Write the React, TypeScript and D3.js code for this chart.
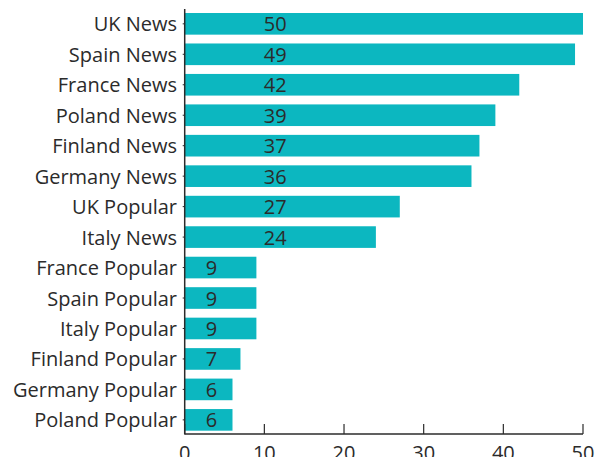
import React from "react";
import * as d3 from "d3";

const categories = [
  "UK News",
  "Spain News",
  "France News",
  "Poland News",
  "Finland News",
  "Germany News",
  "UK Popular",
  "Italy News",
  "France Popular",
  "Spain Popular",
  "Italy Popular",
  "Finland Popular",
  "Germany Popular",
  "Poland Popular",
];
const values = [50, 49, 42, 39, 37, 36, 27, 24, 9, 9, 9, 7, 6, 6];
const xTicks = [0, 10, 20, 30, 40, 50];

const W = 602;
const H = 457;
const FONT = "'Open Sans', sans-serif";
const TEXT = "#2b2b2b";
const BAR = "#0cb7c0";
const FS = 20;

export default function App() {
  const x = d3.scaleLinear().domain([0, 50]).range([184.7, 583]);
  const y = d3
    .scaleBand<string>()
    .domain(categories)
    .range([8.6, 435.1])
    .paddingInner(0.29)
    .paddingOuter(0.145);
  const axisY = 434;
  const bw = y.bandwidth();

  return (
    <svg
      width={W}
      height={H}
      style={{ position: "absolute", left: 0, top: 0, background: "#fff" }}
      fontFamily={FONT}
    >
      {categories.map((c, i) => {
        const yc = (y(c) as number) + bw / 2;
        const v = values[i];
        return (
          <g key={c}>
            <rect x={x(0)} y={y(c)} width={x(v) - x(0)} height={bw} fill={BAR} />
            <text x={177} y={yc + 7.5} textAnchor="end" fontSize={FS} fill={TEXT}>
              {c}
            </text>
            <text
              x={v >= 10 ? x(10) - 0.5 : x(2.65)}
              y={yc + 7.5}
              textAnchor="start"
              fontSize={FS}
              fill={TEXT}
            >
              {v}
            </text>
            <line x1={x(0) - 2} x2={x(0)} y1={yc} y2={yc} stroke={TEXT} strokeWidth={1} />
          </g>
        );
      })}
      <line x1={x(0)} x2={x(0)} y1={9} y2={axisY + 0.5} stroke={TEXT} strokeWidth={1.5} />
      <line x1={x(0)} x2={x(50)} y1={axisY} y2={axisY} stroke={TEXT} strokeWidth={1.5} />
      {xTicks.map((t) => (
        <g key={t}>
          <line x1={x(t)} x2={x(t)} y1={axisY - 10} y2={axisY} stroke={TEXT} strokeWidth={1.2} />
          <text x={x(t)} y={459.5} textAnchor="middle" fontSize={FS} fill={TEXT}>
            {t}
          </text>
        </g>
      ))}
    </svg>
  );
}
